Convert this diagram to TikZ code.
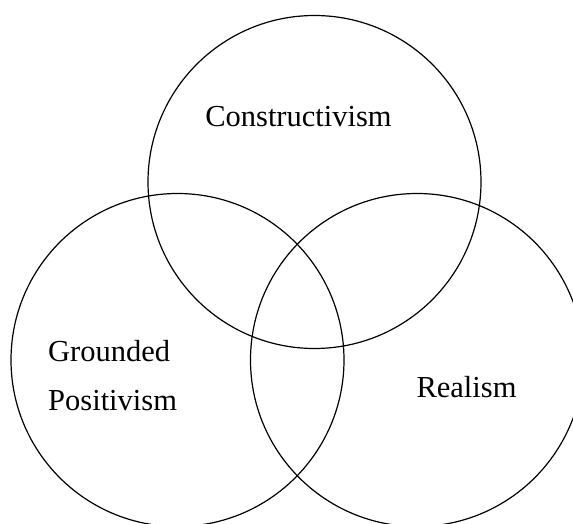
\documentclass[tikz,border=0pt]{standalone}
\usepackage{fontspec}
\setmainfont{Liberation Serif}
\begin{document}
\begin{tikzpicture}[x=1pt,y=-1pt,
  venn/.style={circle,draw=black,line width=1.2pt,inner sep=0pt,minimum size=333pt},
  lbl/.style={font=\fontsize{30.5}{49}\selectfont,inner sep=0pt}]
\useasboundingbox (0,0) rectangle (573,524);
\clip (0,0) rectangle (573,524);
\node[venn] (cons) at (314.5,182) {};
\node[venn] (grnd) at (177.5,360) {};
\node[venn] (real) at (417,360) {};
\node[lbl,anchor=base] (tc) at (298.5,127) {Constructivism};
\node[lbl,anchor=base west,align=left] (tg) at (48,410) {Grounded\\Positivism};
\node[lbl,anchor=base] (tr) at (466.5,397) {Realism};
\end{tikzpicture}
\end{document}
